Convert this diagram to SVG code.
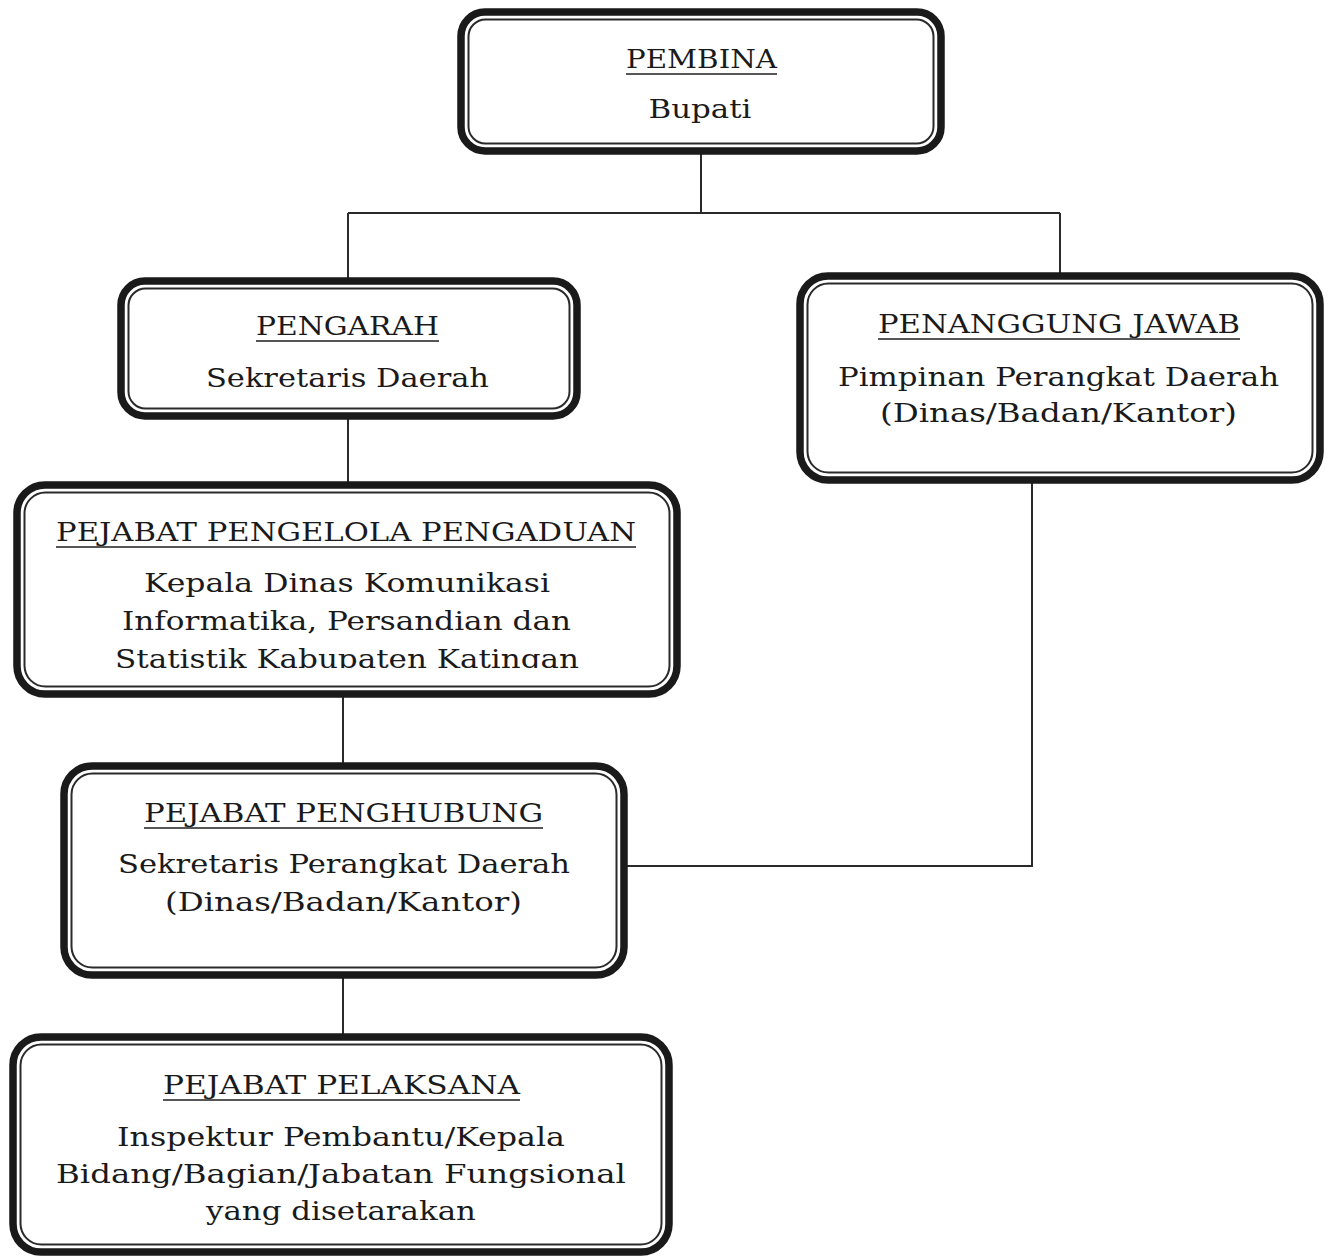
<svg xmlns="http://www.w3.org/2000/svg" width="1329" height="1260" viewBox="0 0 1329 1260">
<style>
.outer{fill:#fff;stroke:#1a1a1a;stroke-width:7.5}
.inner{fill:none;stroke:#2a2a2a;stroke-width:2}
.t{font-family:"DejaVu Serif","Liberation Serif",serif;font-size:26px;fill:#1a1a1a;text-anchor:middle}
.ul{stroke:#1e1e1e;stroke-width:1.6}
.c{fill:none;stroke:#2a2a2a;stroke-width:2}
</style>
<defs>
<clipPath id="clip3"><rect x="0" y="480" width="700" height="188"/></clipPath>
</defs>
<g id="connectors">
<path class="c" d="M701 152V213M348 213H1060M348 213V281M1060 213V276"/>
<path class="c" d="M348 416V485"/>
<path class="c" d="M343 694V766"/>
<path class="c" d="M343 975V1037"/>
<path class="c" d="M1032 480V866H624"/>
</g>
<g id="pembina">
<rect class="outer" x="461" y="12" width="480" height="139" rx="24"/>
<rect class="inner" x="468.5" y="19.5" width="465" height="124" rx="17"/>
<text class="t" x="701.5" y="68" textLength="151" lengthAdjust="spacingAndGlyphs">PEMBINA</text>
<line class="ul" x1="626" y1="74" x2="777" y2="74"/>
<text class="t" x="700" y="118" textLength="103" lengthAdjust="spacingAndGlyphs">Bupati</text>
</g>
<g id="pengarah">
<rect class="outer" x="121" y="281" width="456" height="135" rx="24"/>
<rect class="inner" x="128.5" y="288.5" width="441" height="120" rx="17"/>
<text class="t" x="347.5" y="335" textLength="183" lengthAdjust="spacingAndGlyphs">PENGARAH</text>
<line class="ul" x1="256" y1="341" x2="439" y2="341"/>
<text class="t" x="347.5" y="387" textLength="283" lengthAdjust="spacingAndGlyphs">Sekretaris Daerah</text>
</g>
<g id="pengelola">
<rect class="outer" x="17" y="485" width="660" height="209" rx="28"/>
<rect class="inner" x="24.5" y="492.5" width="645" height="194" rx="21"/>
<text class="t" x="346" y="541" textLength="580" lengthAdjust="spacingAndGlyphs">PEJABAT PENGELOLA PENGADUAN</text>
<line class="ul" x1="56" y1="547" x2="636" y2="547"/>
<text class="t" x="347" y="592" textLength="406" lengthAdjust="spacingAndGlyphs">Kepala Dinas Komunikasi</text>
<text class="t" x="346.5" y="630" textLength="449" lengthAdjust="spacingAndGlyphs">Informatika, Persandian dan</text>
<text class="t" x="347" y="668" textLength="464" lengthAdjust="spacingAndGlyphs" clip-path="url(#clip3)">Statistik Kabupaten Katingan</text>
</g>
<g id="penanggung-jawab">
<rect class="outer" x="800" y="276" width="520" height="204" rx="28"/>
<rect class="inner" x="807.5" y="283.5" width="505" height="189" rx="21"/>
<text class="t" x="1059" y="333" textLength="362" lengthAdjust="spacingAndGlyphs">PENANGGUNG JAWAB</text>
<line class="ul" x1="878" y1="339" x2="1240" y2="339"/>
<text class="t" x="1058.5" y="386" textLength="441" lengthAdjust="spacingAndGlyphs">Pimpinan Perangkat Daerah</text>
<text class="t" x="1058.5" y="422" textLength="357" lengthAdjust="spacingAndGlyphs">(Dinas/Badan/Kantor)</text>
</g>
<g id="penghubung">
<rect class="outer" x="64" y="766" width="560" height="209" rx="28"/>
<rect class="inner" x="71.5" y="773.5" width="545" height="194" rx="21"/>
<text class="t" x="343.5" y="822" textLength="399" lengthAdjust="spacingAndGlyphs">PEJABAT PENGHUBUNG</text>
<line class="ul" x1="144" y1="828" x2="543" y2="828"/>
<text class="t" x="344" y="873" textLength="452" lengthAdjust="spacingAndGlyphs">Sekretaris Perangkat Daerah</text>
<text class="t" x="343.5" y="911" textLength="357" lengthAdjust="spacingAndGlyphs">(Dinas/Badan/Kantor)</text>
</g>
<g id="pelaksana">
<rect class="outer" x="13" y="1037" width="656" height="215" rx="28"/>
<rect class="inner" x="20.5" y="1044.5" width="641" height="200" rx="21"/>
<text class="t" x="341.5" y="1094" textLength="357" lengthAdjust="spacingAndGlyphs">PEJABAT PELAKSANA</text>
<line class="ul" x1="163" y1="1100" x2="520" y2="1100"/>
<text class="t" x="341" y="1146" textLength="448" lengthAdjust="spacingAndGlyphs">Inspektur Pembantu/Kepala</text>
<text class="t" x="341" y="1183" textLength="570" lengthAdjust="spacingAndGlyphs">Bidang/Bagian/Jabatan Fungsional</text>
<text class="t" x="341" y="1220" textLength="270" lengthAdjust="spacingAndGlyphs">yang disetarakan</text>
</g>
</svg>
